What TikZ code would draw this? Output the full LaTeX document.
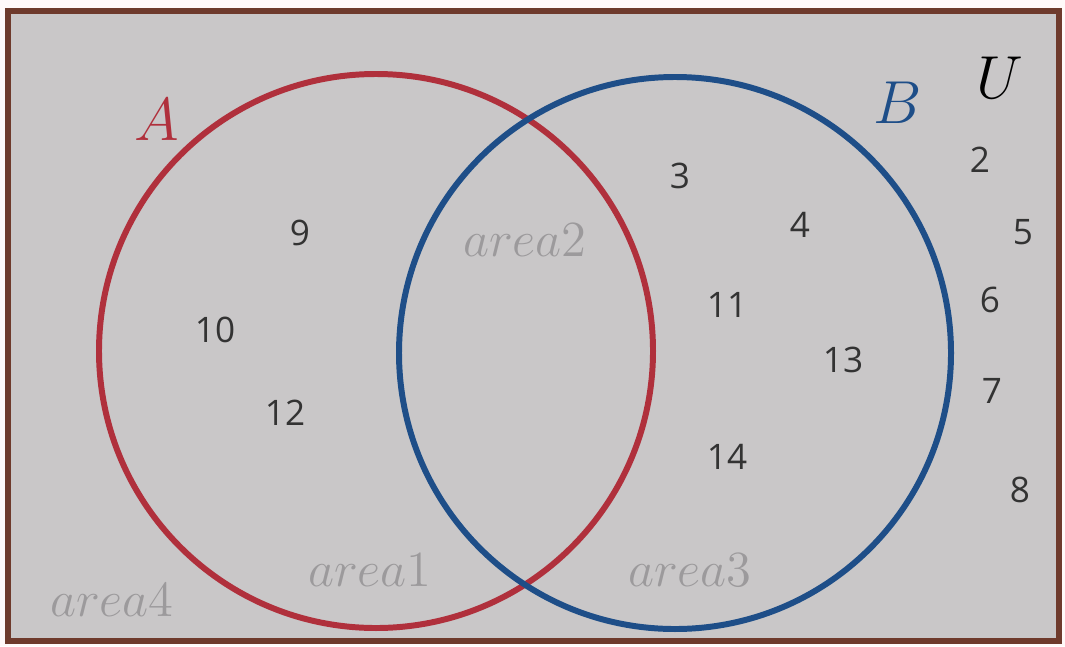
\documentclass[tikz,border=0pt]{standalone}
\usepackage{fontspec}
\newfontfamily\numfont{Open Sans}
\definecolor{setA}{HTML}{B0303C}
\definecolor{setB}{HTML}{1E4E88}
\definecolor{board}{HTML}{C9C7C8}
\definecolor{frame}{HTML}{6E3A2C}
\definecolor{areagray}{HTML}{9C9A9C}
\tikzset{
  elem/.style={font=\numfont\fontsize{10}{12}\selectfont, text=black!80},
  setname/.style={font=\fontsize{17}{20}\selectfont},
  arealbl/.style={font=\fontsize{15}{18}\selectfont, text=areagray},
}
\begin{document}
\begin{tikzpicture}[x=0.1mm,y=-0.1mm]
  \useasboundingbox[fill=white!90!pink] (0,0) rectangle (1065,646);
  \draw[line width=1.6pt,draw=frame,fill=board] (8,11) rectangle (1059,641);
  % the two sets
  \draw[line width=1.7pt,setA] (376,351) circle (277);
  \draw[line width=1.7pt,setB] (675,353) circle (276);
  \node[setname,text=setA] (nameA) at (157,120) {$A$};
  \node[setname,text=setB] (nameB) at (898,103) {$B$};
  \node[setname,text=black] (nameU) at (1000,78) {$U$};
  % elements
  \node[elem] (e9)  at (300,233) {9};
  \node[elem] (e10) at (215,330) {10};
  \node[elem] (e12) at (285,413) {12};
  \node[elem] (e3)  at (680,176) {3};
  \node[elem] (e4)  at (800,225) {4};
  \node[elem] (e11) at (727,305) {11};
  \node[elem] (e13) at (843,360) {13};
  \node[elem] (e14) at (727,457) {14};
  \node[elem] (e2)  at (980,160) {2};
  \node[elem] (e5)  at (1023,232) {5};
  \node[elem] (e6)  at (990,300) {6};
  \node[elem] (e7)  at (992,391) {7};
  \node[elem] (e8)  at (1020,490) {8};
  % regions
  \node[arealbl] (ar2) at (525,240) {$area2$};
  \node[arealbl] (ar1) at (370,570) {$area1$};
  \node[arealbl] (ar3) at (690,570) {$area3$};
  \node[arealbl] (ar4) at (112,600) {$area4$};
\end{tikzpicture}
\end{document}
